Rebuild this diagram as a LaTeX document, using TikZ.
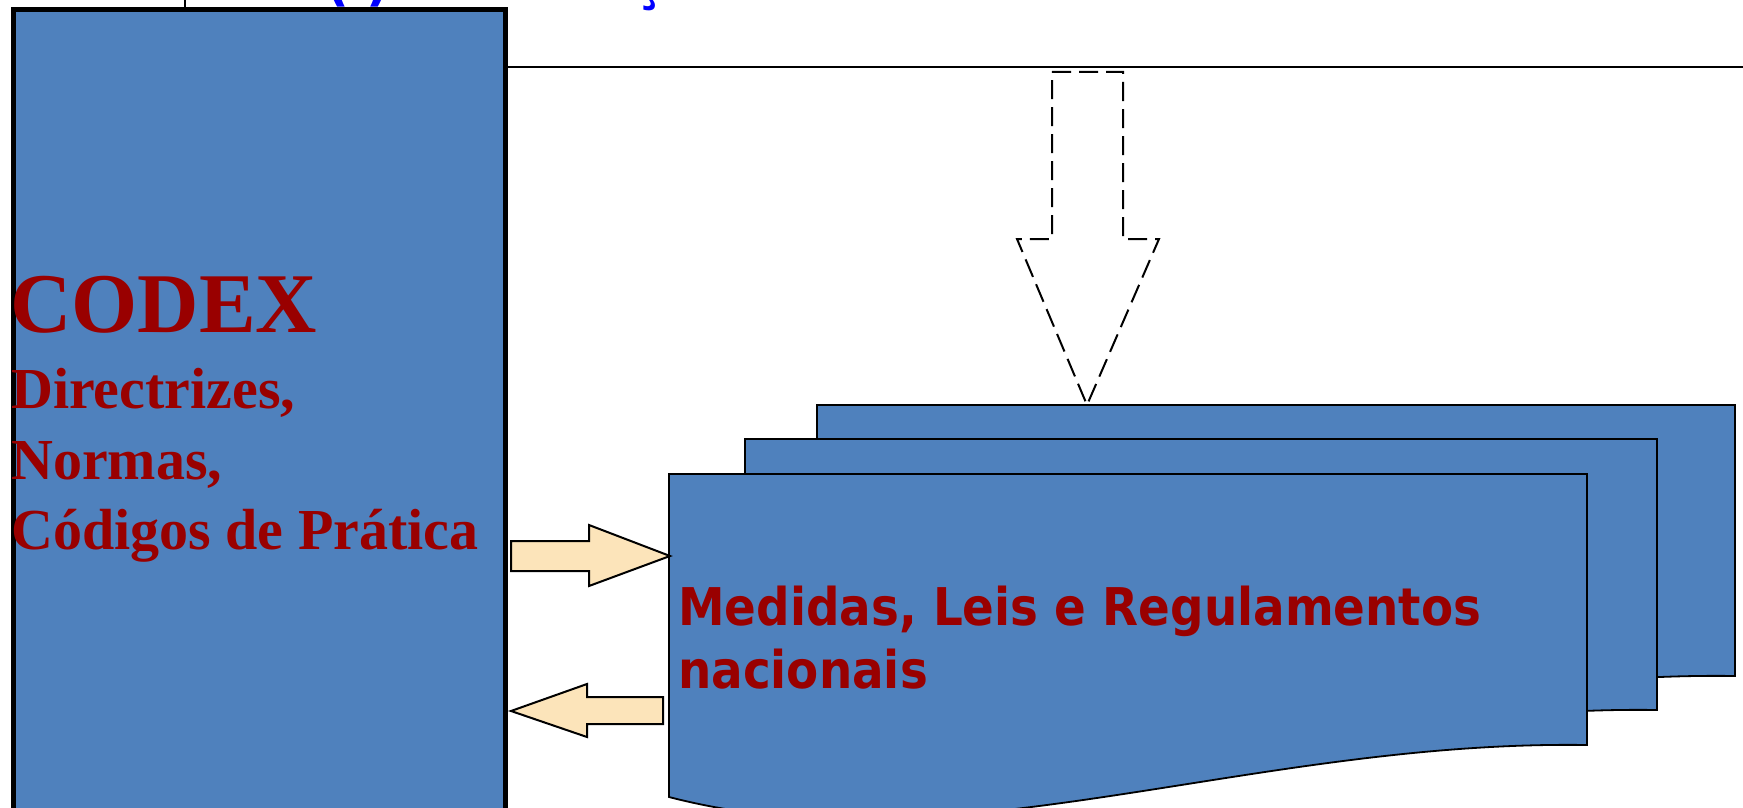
\documentclass[tikz,border=0pt]{standalone}
\usepackage{fontspec}
\setmainfont{Liberation Serif}
\newfontfamily\docfont[FakeStretch=0.9]{DejaVu Sans}
\definecolor{boxblue}{RGB}{79,129,189}
\definecolor{textred}{RGB}{153,0,0}
\definecolor{arrowtan}{RGB}{252,228,186}
\definecolor{titleblue}{RGB}{0,0,255}
\tikzset{
  sheet/.style={draw=black, line width=1.8pt, fill=boxblue},
  blockarrow/.style={draw=black, line width=2pt, fill=arrowtan, line join=miter},
  dasharrow/.style={draw=black, line width=2pt, dash pattern=on 19pt off 8pt},
  codexline/.style={text=textred, font=\bfseries\fontsize{58}{70}\selectfont, inner sep=0pt, anchor=base west},
  doctext/.style={text=textred, font=\docfont\bfseries\fontsize{52}{63}\selectfont, inner sep=0pt, anchor=base west},
}
% one sheet of the document stack: #1,#2 top-left corner, #3 width
\newcommand\docsheet[3]{%
  \begin{scope}[shift={(#1,#2)}]
    \path[sheet] (0,0) -- (#3,0) -- (#3,271)
      .. controls (581,266) and (281,396) .. (0,323) -- cycle;
  \end{scope}}
\begin{document}
\begin{tikzpicture}[x=1pt, y=-1pt]
  \useasboundingbox (0,0) rectangle (1743,808);
  \clip (0,0) rectangle (1743,808);

  % title above the frame (only its descenders reach into the page)
  \node[inner sep=0pt, anchor=base west, text=titleblue,
        font=\docfont\bfseries\fontsize{58}{66}\selectfont] (title) at (325,-0.5) {(i) Ratificação};

  % rule and tick along the top
  \coordinate (ruleL) at (505,67);
  \coordinate (ruleR) at (1743,67);
  \draw[line width=2pt] (ruleL) -- (ruleR);
  \coordinate (tickT) at (185,0);
  \coordinate (tickB) at (185,8);
  \draw[line width=1.5pt] (tickT) -- (tickB);

  % CODEX panel
  \node[draw=black, line width=5pt, fill=boxblue, minimum width=492pt, minimum height=820pt,
        anchor=north west, inner sep=0pt] (codex) at (10.5,7.5) {};
  \node[codexline, font=\bfseries\fontsize{85}{90}\selectfont] (cx) at (10,332) {CODEX};
  \node[codexline] (cx1) at (11,408) {Directrizes,};
  \node[codexline] (cx2) at (11,479) {Normas,};
  \node[codexline] (cx3) at (11,549) {Códigos de Prática};

  % stack of national documents
  \docsheet{817}{405}{918}
  \docsheet{745}{439}{912}
  \docsheet{669}{474}{918}
  \coordinate (stacktop) at (1087,405);
  \coordinate (stackleft) at (670,556);
  \coordinate (stackback) at (663,710);
  \node[doctext] (nat1) at (678,625) {Medidas, Leis e Regulamentos};
  \node[doctext] (nat2) at (678,688) {nacionais};

  % dashed block arrow from the rule down to the stack
  \path[dasharrow] (1052,72) -- (1123,72) -- (1123,239) -- (1159,239) -- (stacktop)
    -- (1017,239) -- (1052,239) -- cycle;

  % exchange arrows between CODEX and the stack
  \path[blockarrow] (511,541) -- (589,541) -- (589,525) -- (stackleft) -- (589,586)
    -- (589,571) -- (511,571) -- cycle;
  \path[blockarrow] (stackback) ++(0,-13) -- (587,697) -- (587,684) -- (511,711) -- (587,737)
    -- (587,724) -- (663,724) -- cycle;
\end{tikzpicture}
\end{document}
